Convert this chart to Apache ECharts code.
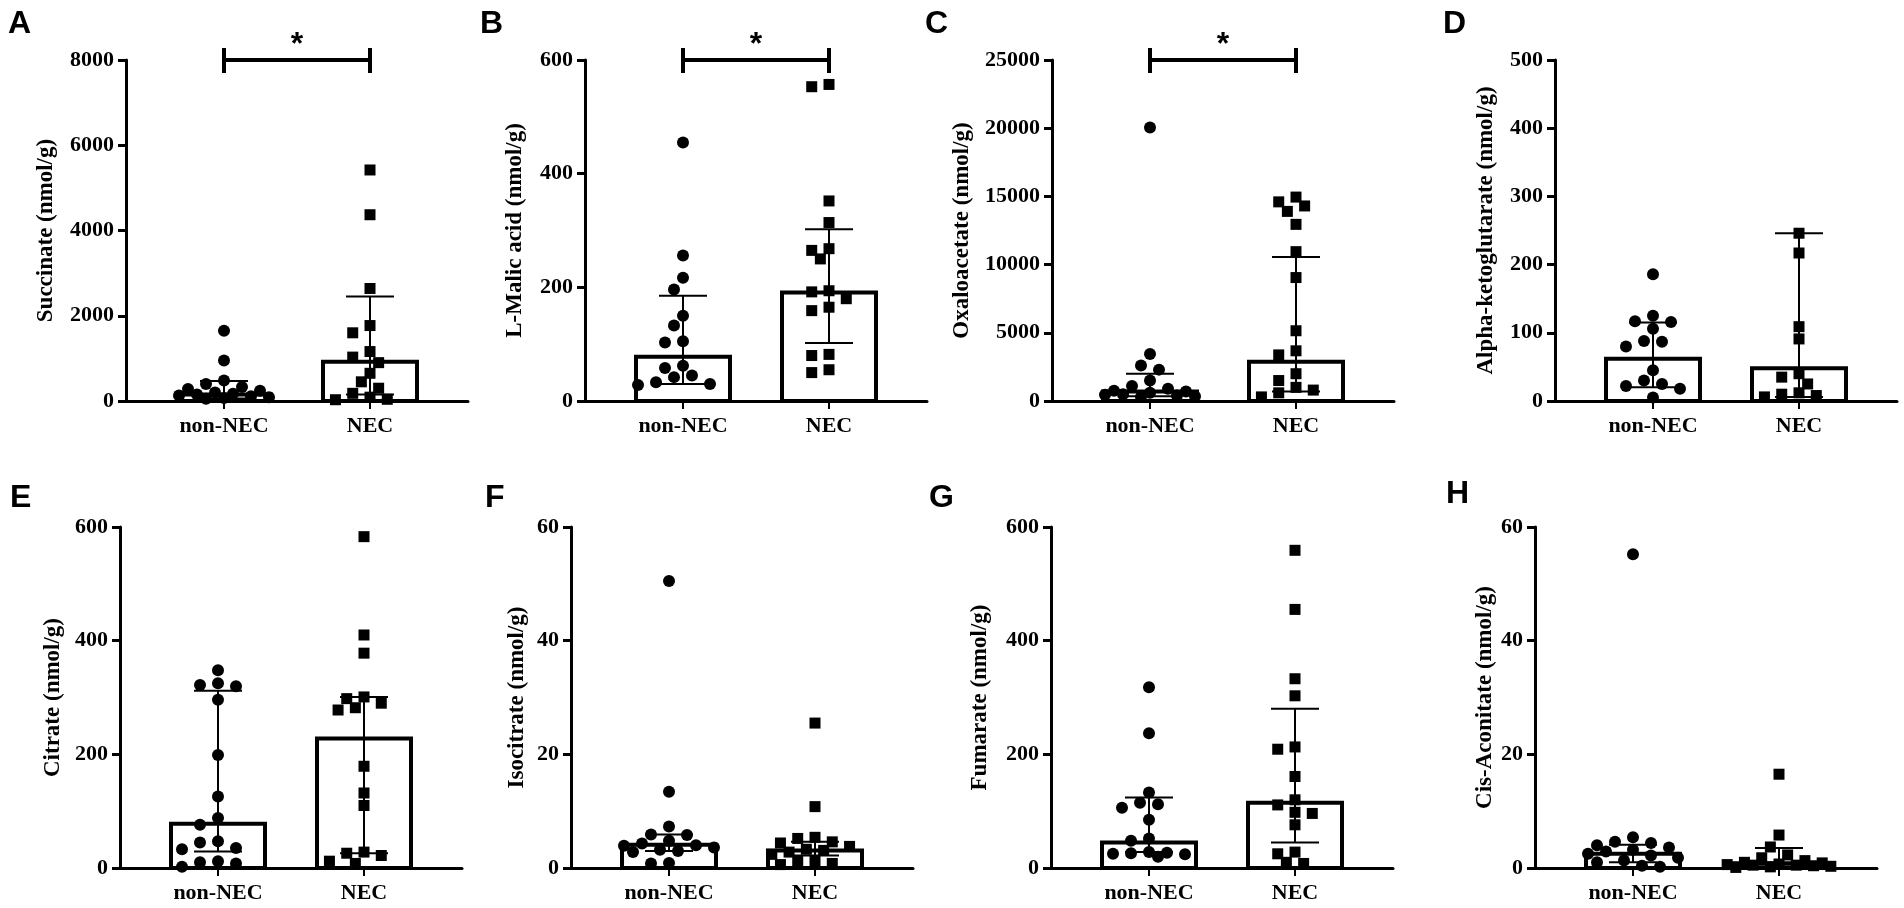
<!DOCTYPE html>
<html lang="en">
<head>
<meta charset="UTF-8">
<title>TCA metabolites non-NEC vs NEC</title>
<script src="https://cdn.jsdelivr.net/npm/echarts@6/dist/echarts.min.js"></script>
<style>
    html, body { margin: 0; padding: 0; background: #fff; }
    #main { width: 1904px; height: 908px; }
</style>
</head>
<body>
<div id="main"></div>
<script>
// groups on the x axis
var groups = ['non-NEC', 'NEC'];

// A - Succinate
var succinateNon = [1650, 950, 480, 400, 330, 280, 240, 200, 170, 150, 130, 110, 90, 70, 50];
var succinateNec = [5420, 4370, 2640, 1770, 1600, 1160, 1030, 900, 650, 450, 300, 180, 90, 40, 30];
var succinateMid = [150, 920];
var succinateLow = [60, 150];
var succinateHigh = [470, 2450];

// B - L-Malic acid
var malicNon = [455, 256, 217, 196, 150, 133, 105, 103, 62, 58, 45, 42, 33, 30, 28];
var malicNec = [557, 553, 352, 314, 268, 265, 250, 194, 192, 180, 165, 159, 82, 80, 55, 50];
var malicMid = [78, 191];
var malicLow = [30, 102];
var malicHigh = [185, 302];

// C - Oxaloacetate
var oxaloNon = [20050, 3450, 2600, 2300, 1500, 1100, 900, 750, 700, 600, 500, 450, 400, 350, 300];
var oxaloNec = [14950, 14600, 14300, 13900, 12950, 10950, 9050, 5150, 3680, 3380, 2000, 1500, 1000, 800, 600, 300];
var oxaloMid = [700, 2870];
var oxaloLow = [350, 700];
var oxaloHigh = [2000, 10550];

// D - Alpha-ketoglutarate
var akgNon = [186, 125, 117, 116, 106, 88, 87, 80, 45, 30, 25, 22, 18, 5];
var akgNec = [246, 217, 109, 91, 40, 35, 25, 12, 10, 8, 6];
var akgMid = [62, 48];
var akgLow = [20, 6];
var akgHigh = [115, 246];

// E - Citrate
var citrateNon = [348, 325, 322, 320, 296, 199, 126, 88, 76, 47, 45, 35, 33, 12, 10, 8, 2];
var citrateNec = [583, 410, 378, 301, 298, 290, 282, 278, 179, 132, 110, 28, 26, 22, 12, 8];
var citrateMid = [78, 228];
var citrateLow = [29, 26];
var citrateHigh = [312, 301];

// F - Isocitrate
var isoNon = [50.5, 13.4, 7.3, 5.9, 5.8, 4.8, 4.3, 4.0, 3.9, 3.6, 3.2, 3.0, 2.8, 0.9, 0.8];
var isoNec = [25.5, 10.8, 5.4, 5.2, 4.6, 4.4, 3.8, 3.3, 3.1, 2.8, 2.4, 1.3, 1.2, 0.8, 0.6];
var isoMid = [4.1, 3.1];
var isoLow = [3.0, 2.2];
var isoHigh = [5.9, 4.6];

// G - Fumarate
var fumNon = [318, 237, 133, 115, 112, 106, 85, 52, 48, 28, 27, 26, 25, 24, 20];
var fumNec = [559, 455, 333, 303, 213, 209, 161, 120, 111, 98, 96, 76, 28, 25, 10, 8];
var fumMid = [45, 115];
var fumLow = [28, 45];
var fumHigh = [124, 280];

// H - Cis-Aconitate
var cisNon = [55.2, 5.4, 4.6, 4.4, 4.0, 3.6, 3.2, 2.9, 2.5, 2.2, 1.8, 1.3, 1.0, 0.4, 0.2];
var cisNec = [16.5, 5.8, 3.7, 2.3, 1.8, 1.3, 1.0, 0.9, 0.7, 0.6, 0.5, 0.5, 0.4, 0.3, 0.2, 0.1];
var cisMid = [2.5, 0.85];
var cisLow = [1.0, 0.3];
var cisHigh = [4.1, 3.5];

var panels = [
    {tag: 'A', name: 'Succinate (nmol/g)', non: succinateNon, nec: succinateNec, mid: succinateMid, low: succinateLow, high: succinateHigh, max: 8000, step: 2000, star: true},
    {tag: 'B', name: 'L-Malic acid (nmol/g)', non: malicNon, nec: malicNec, mid: malicMid, low: malicLow, high: malicHigh, max: 600, step: 200, star: true},
    {tag: 'C', name: 'Oxaloacetate (nmol/g)', non: oxaloNon, nec: oxaloNec, mid: oxaloMid, low: oxaloLow, high: oxaloHigh, max: 25000, step: 5000, star: true},
    {tag: 'D', name: 'Alpha-ketoglutarate (nmol/g)', non: akgNon, nec: akgNec, mid: akgMid, low: akgLow, high: akgHigh, max: 500, step: 100, star: false},
    {tag: 'E', name: 'Citrate (nmol/g)', non: citrateNon, nec: citrateNec, mid: citrateMid, low: citrateLow, high: citrateHigh, max: 600, step: 200, star: false},
    {tag: 'F', name: 'Isocitrate (nmol/g)', non: isoNon, nec: isoNec, mid: isoMid, low: isoLow, high: isoHigh, max: 60, step: 20, star: false},
    {tag: 'G', name: 'Fumarate (nmol/g)', non: fumNon, nec: fumNec, mid: fumMid, low: fumLow, high: fumHigh, max: 600, step: 200, star: false},
    {tag: 'H', name: 'Cis-Aconitate (nmol/g)', non: cisNon, nec: cisNec, mid: cisMid, low: cisLow, high: cisHigh, max: 60, step: 20, star: false}
];

// where each panel sits: y axis x, plot top, title gap, letter position
var layout = [
    {left: 126, top: 60, gap: 68, lx: 8, ly: 8},
    {left: 585, top: 60, gap: 58, lx: 480, ly: 8},
    {left: 1052, top: 60, gap: 78, lx: 925, ly: 8},
    {left: 1555, top: 60, gap: 57, lx: 1443, ly: 8},
    {left: 120, top: 527, gap: 55, lx: 10, ly: 482},
    {left: 571, top: 527, gap: 42, lx: 485, ly: 482},
    {left: 1051, top: 527, gap: 59, lx: 929, ly: 482},
    {left: 1535, top: 527, gap: 38, lx: 1446, ly: 478}
];

var plotW = 342, plotH = 341, catPx = 146, firstPx = 98;
var xMin = -firstPx / catPx, xMax = (plotW - firstPx) / catPx;
var serif = 'Liberation Serif';

// spread overlapping points sideways, like a column scatter
function swarm(values, center, yMax, size, maxOff) {
    var pxY = plotH / yMax, stepPx = size * 0.72;
    var order = values.map(function (v, i) { return i; })
        .sort(function (a, b) { return values[b] - values[a]; });
    var placed = [], out = [];
    order.forEach(function (i) {
        var y = values[i] * pxY, best = 0, bestGap = -1;
        for (var k = 0; k < 60; k++) {
            var off = (k % 2 === 1 ? -1 : 1) * Math.ceil(k / 2) * stepPx;
            if (Math.abs(off) > maxOff) break;
            var gap = placed.reduce(function (m, p) {
                return Math.min(m, Math.sqrt((p.x - off) * (p.x - off) + (p.y - y) * (p.y - y)));
            }, Infinity);
            if (gap >= size) { best = off; bestGap = gap; break; }
            if (gap > bestGap) { best = off; bestGap = gap; }
        }
        placed.push({x: best, y: y});
        out.push([center + best / catPx, values[i]]);
    });
    return out;
}

function barItem(params, api) {
    var x = api.value(0);
    var p0 = api.coord([x, 0]), p1 = api.coord([x, api.value(1)]);
    var w = 94;
    return {
        type: 'rect',
        shape: {x: p0[0] - w / 2, y: p1[1], width: w, height: p0[1] - p1[1]},
        style: {fill: '#fff', stroke: '#000', lineWidth: 4}
    };
}

function errItem(params, api) {
    var x = api.value(0);
    var lo = api.coord([x, api.value(1)]), hi = api.coord([x, api.value(2)]);
    var c = 24, st = {stroke: '#000', lineWidth: 2};
    return {
        type: 'group',
        children: [
            {type: 'line', shape: {x1: lo[0], y1: lo[1], x2: hi[0], y2: hi[1]}, style: st},
            {type: 'line', shape: {x1: lo[0] - c, y1: lo[1], x2: lo[0] + c, y2: lo[1]}, style: st},
            {type: 'line', shape: {x1: hi[0] - c, y1: hi[1], x2: hi[0] + c, y2: hi[1]}, style: st}
        ]
    };
}

function starItem(params, api) {
    var a = api.coord([api.value(0), api.value(2)]), b = api.coord([api.value(1), api.value(2)]);
    var st = {stroke: '#000', lineWidth: 4};
    return {
        type: 'group',
        children: [
            {type: 'line', shape: {x1: a[0], y1: a[1], x2: b[0], y2: b[1]}, style: st},
            {type: 'line', shape: {x1: a[0], y1: a[1] - 12, x2: a[0], y2: a[1] + 13}, style: st},
            {type: 'line', shape: {x1: b[0], y1: b[1] - 12, x2: b[0], y2: b[1] + 13}, style: st},
            {type: 'text', style: {text: '*', x: (a[0] + b[0]) / 2, y: a[1] - 31, align: 'center', verticalAlign: 'top',
                font: 'bold 32px "Liberation Sans"', fill: '#000'}}
        ]
    };
}

var grids = [], xAxes = [], yAxes = [], series = [], graphics = [];

panels.forEach(function (pn, i) {
    var lay = layout[i];
    grids.push({left: lay.left, top: lay.top, width: plotW, height: plotH});
    xAxes.push({
        gridIndex: i, type: 'value', min: xMin, max: xMax,
        splitLine: {show: false},
        axisLine: {onZero: false, lineStyle: {color: '#000', width: 3}},
        axisTick: {show: true, customValues: [0, 1], length: 8, lineStyle: {color: '#000', width: 2}},
        axisLabel: {
            customValues: [0, 1], margin: 14, color: '#000',
            fontFamily: serif, fontWeight: 'bold', fontSize: 22,
            formatter: function (v) { return groups[Math.round(v)]; }
        }
    });
    yAxes.push({
        gridIndex: i, type: 'value', min: 0, max: pn.max, interval: pn.step,
        name: pn.name, nameLocation: 'middle', nameRotate: 90, nameGap: lay.gap,
        nameTextStyle: {color: '#000', fontFamily: serif, fontWeight: 'bold', fontSize: 23},
        splitLine: {show: false},
        axisLine: {show: true, onZero: false, lineStyle: {color: '#000', width: 3}},
        axisTick: {show: true, length: 8, lineStyle: {color: '#000', width: 3}},
        axisLabel: {color: '#000', fontFamily: serif, fontWeight: 'bold', fontSize: 22, margin: 12,
            formatter: function (v) { return String(v); }}
    });

    series.push({
        type: 'custom', xAxisIndex: i, yAxisIndex: i, renderItem: barItem, z: 2,
        data: [[0, pn.mid[0]], [1, pn.mid[1]]]
    });
    series.push({
        type: 'custom', xAxisIndex: i, yAxisIndex: i, renderItem: errItem, z: 3,
        data: [[0, pn.low[0], pn.high[0]], [1, pn.low[1], pn.high[1]]]
    });
    series.push({
        type: 'scatter', xAxisIndex: i, yAxisIndex: i, symbol: 'circle', symbolSize: 12, z: 4,
        itemStyle: {color: '#000', opacity: 1}, data: swarm(pn.non, 0, pn.max, 12.5, 48)
    });
    series.push({
        type: 'scatter', xAxisIndex: i, yAxisIndex: i, symbol: 'rect', symbolSize: 11, z: 4,
        itemStyle: {color: '#000', opacity: 1}, data: swarm(pn.nec, 1, pn.max, 12, 52)
    });
    if (pn.star) {
        series.push({
            type: 'custom', xAxisIndex: i, yAxisIndex: i, renderItem: starItem, clip: false, z: 5,
            data: [[0, 1, pn.max]]
        });
    }
    graphics.push({
        type: 'text', left: lay.lx, top: lay.ly,
        style: {text: pn.tag, font: 'bold 32px "Liberation Sans"', fill: '#000'}
    });
});

var chart = echarts.init(document.getElementById('main'));
chart.setOption({
    animation: false,
    backgroundColor: '#fff',
    grid: grids,
    xAxis: xAxes,
    yAxis: yAxes,
    series: series,
    graphic: graphics
});
</script>
</body>
</html>
